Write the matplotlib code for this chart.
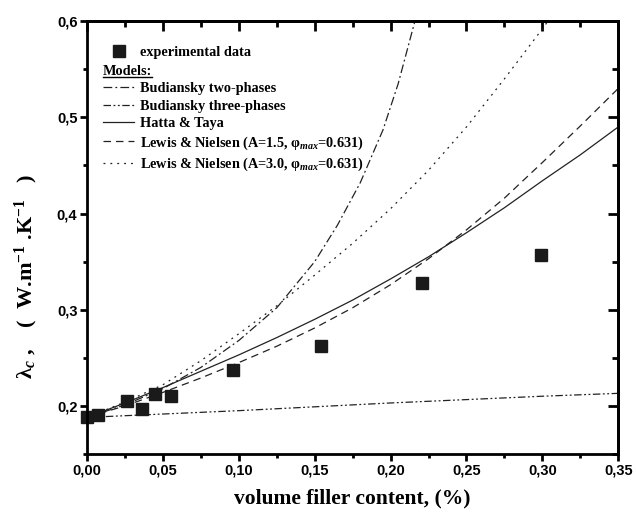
import numpy as np
import matplotlib
matplotlib.use('Agg')
import matplotlib.pyplot as plt
from matplotlib.lines import Line2D
from matplotlib.ticker import FuncFormatter, MultipleLocator

plt.rcParams['mathtext.fontset'] = 'custom'
plt.rcParams['mathtext.rm'] = 'Liberation Serif:bold'
plt.rcParams['mathtext.it'] = 'Liberation Serif:bold:italic'
plt.rcParams['mathtext.bf'] = 'Liberation Serif:bold'

# experimental points
exp_x = [0.000, 0.007, 0.026, 0.036, 0.045, 0.055, 0.096, 0.154, 0.221, 0.299]
exp_y = [0.188, 0.190, 0.205, 0.197, 0.212, 0.210, 0.237, 0.262, 0.328, 0.357]

# model curves
grid_x = [0.0, 0.025, 0.05, 0.075, 0.1, 0.125, 0.15, 0.175, 0.2, 0.225,
          0.25, 0.275, 0.3, 0.325, 0.35]
hatta_y = [0.188, 0.203, 0.219, 0.236, 0.253, 0.271, 0.290, 0.310, 0.332,
           0.355, 0.380, 0.406, 0.434, 0.461, 0.490]
ln15_y = [0.188, 0.200, 0.214, 0.229, 0.245, 0.262, 0.281, 0.302, 0.326,
          0.353, 0.383, 0.416, 0.453, 0.491, 0.530]
ln30_x = [0.0, 0.025, 0.05, 0.075, 0.1, 0.125, 0.15, 0.175, 0.2, 0.225,
          0.25, 0.275, 0.3, 0.315]
ln30_y = [0.188, 0.204, 0.222, 0.247, 0.275, 0.304, 0.336, 0.369, 0.405,
          0.445, 0.490, 0.540, 0.592, 0.625]
bud2_x = [0.0, 0.025, 0.05, 0.075, 0.1, 0.125, 0.15, 0.165, 0.18, 0.195,
          0.205, 0.216, 0.225]
bud2_y = [0.188, 0.201, 0.218, 0.240, 0.268, 0.302, 0.350, 0.388, 0.432,
          0.487, 0.535, 0.600, 0.670]
bud3_x = [0.0, 0.1, 0.2, 0.3, 0.35]
bud3_y = [0.188, 0.195, 0.203, 0.210, 0.213]

fig = plt.figure(figsize=(6.36, 5.17), dpi=100)
ax = fig.add_axes([0.137, 0.122, 0.835, 0.837])

lw = 0.9
col = '#222222'
l_b2, = ax.plot(bud2_x, bud2_y, color=col, lw=lw, ls=(0, (7, 2.5, 1.5, 2.5)))
l_b3, = ax.plot(bud3_x, bud3_y, color=col, lw=lw, ls=(0, (6, 2, 1.5, 2, 1.5, 2)))
l_ht, = ax.plot(grid_x, hatta_y, color=col, lw=lw, ls='-')
l_l1, = ax.plot(grid_x, ln15_y, color=col, lw=lw, ls=(0, (6, 4)))
l_l3, = ax.plot(ln30_x, ln30_y, color=col, lw=lw, ls=(0, (1.5, 4)))
sc, = ax.plot(exp_x, exp_y, 's', color='#1a1a1a', ms=8, ls='none', clip_on=False)

ax.set_xlim(0, 0.35)
ax.set_ylim(0.15, 0.6)
ax.xaxis.set_major_locator(MultipleLocator(0.05))
ax.xaxis.set_minor_locator(MultipleLocator(0.025))
ax.yaxis.set_major_locator(MultipleLocator(0.1))
ax.yaxis.set_minor_locator(MultipleLocator(0.05))
ax.xaxis.set_major_formatter(FuncFormatter(lambda v, p: f'{v:.2f}'.replace('.', ',')))
ax.yaxis.set_major_formatter(FuncFormatter(lambda v, p: f'{v:.1f}'.replace('.', ',')))

for s in ax.spines.values():
    s.set_linewidth(2)
ax.tick_params(which='major', length=5, width=2, direction='out', pad=2)
ax.tick_params(which='minor', length=3, width=2, direction='out')
for lab in ax.get_xticklabels() + ax.get_yticklabels():
    lab.set_fontfamily('Liberation Sans')
    lab.set_fontweight('bold')
    lab.set_fontsize(10.5)

# mirrored ticks on top/right, pointing in
sec_x = ax.secondary_xaxis('top')
sec_x.xaxis.set_major_locator(MultipleLocator(0.05))
sec_x.xaxis.set_minor_locator(MultipleLocator(0.025))
sec_x.tick_params(which='major', length=7, width=2, direction='in', labeltop=False)
sec_x.tick_params(which='minor', length=4, width=2, direction='in')
sec_x.spines['top'].set_linewidth(2)
sec_y = ax.secondary_yaxis('right')
sec_y.yaxis.set_major_locator(MultipleLocator(0.1))
sec_y.yaxis.set_minor_locator(MultipleLocator(0.05))
sec_y.tick_params(which='major', length=7, width=2, direction='in', labelright=False)
sec_y.tick_params(which='minor', length=4, width=2, direction='in')
sec_y.spines['right'].set_linewidth(2)

ax.set_xlabel('volume filler content, (%)', fontfamily='Liberation Serif',
              fontweight='bold', fontsize=15.5, labelpad=8)
ax.set_ylabel(r'$\mathrm{\lambda}_c$ ,    (  W.m$^{-1}$ .K$^{-1}$   )',
              fontfamily='Liberation Serif', fontweight='bold', fontsize=16)
ax.yaxis.set_label_coords(-0.088, 0.41)

leg_font = {'family': 'Liberation Serif', 'weight': 'bold', 'size': 10.3}
leg1 = ax.legend([sc], ['experimental data'], loc='upper left',
                 bbox_to_anchor=(0.019, 0.957), frameon=False, prop=leg_font,
                 handlelength=2.2, handletextpad=0.4, borderaxespad=0)
ax.add_artist(leg1)
labels = ['Budiansky two-phases', 'Budiansky three-phases', 'Hatta & Taya',
          'Lewis & Nielsen (A=1.5, φ$_{max}$=0.631)',
          'Lewis & Nielsen (A=3.0, φ$_{max}$=0.631)']
leg2 = ax.legend([l_b2, l_b3, l_ht, l_l1, l_l3], labels, loc='upper left',
                 bbox_to_anchor=(0.019, 0.912), frameon=False, prop=leg_font,
                 title='Models:', title_fontproperties=leg_font, alignment='left',
                 handlelength=2.2, handletextpad=0.4, borderaxespad=0,
                 labelspacing=0.3)

fig.canvas.draw()
bb = leg2.get_title().get_window_extent().transformed(fig.transFigure.inverted())
fig.add_artist(Line2D([bb.x0, bb.x1], [bb.y0 + 0.002, bb.y0 + 0.002], color='black',
                      lw=1, transform=fig.transFigure))

fig.savefig('out.png', dpi=100)
